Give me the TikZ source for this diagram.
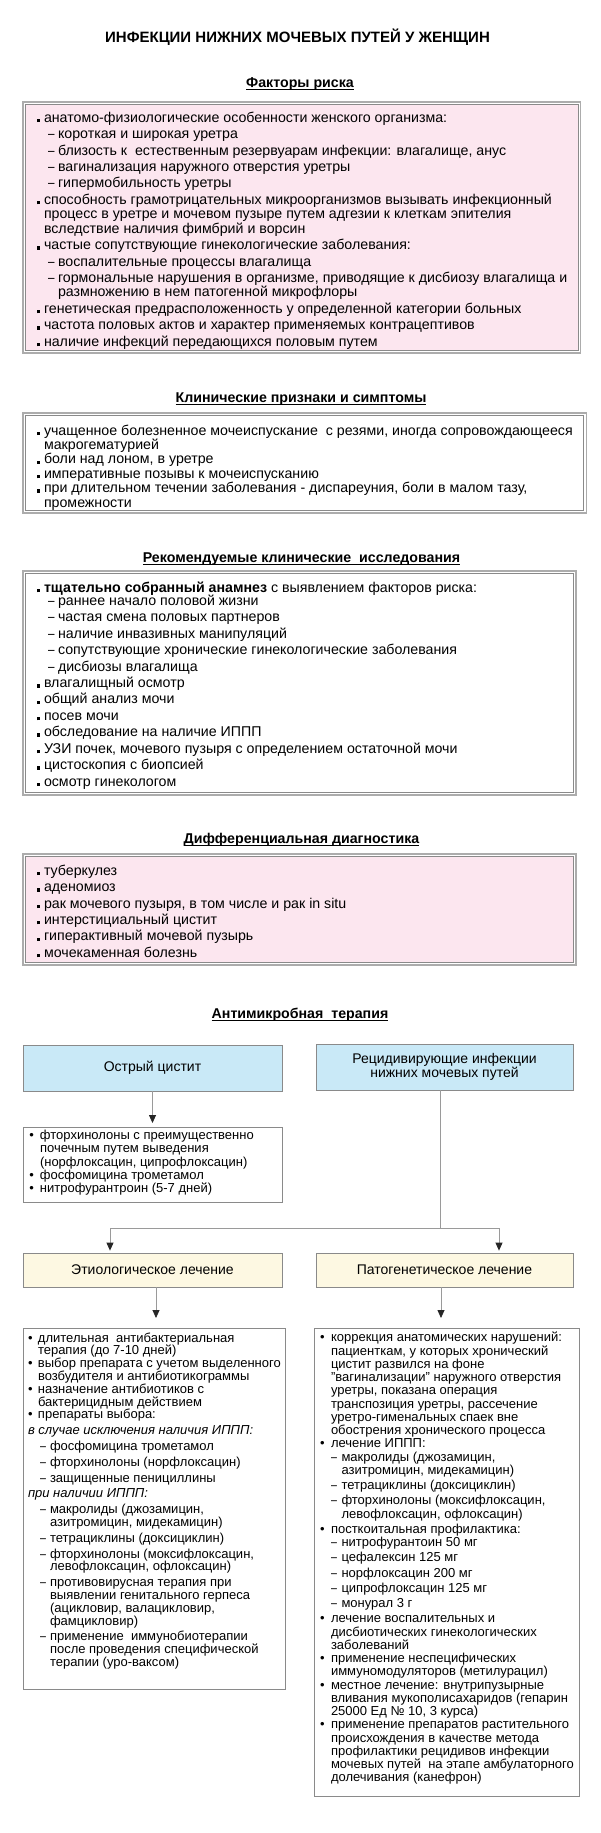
\documentclass[tikz,border=0pt]{standalone}
\usepackage{fontspec}
\usepackage{graphicx}
\setmainfont{Liberation Sans}
\usetikzlibrary{arrows.meta}
\definecolor{pinkc}{HTML}{FCE6EF}
\definecolor{bluec}{HTML}{C9E9F7}
\definecolor{yellc}{HTML}{FDF8E2}
\definecolor{framec}{HTML}{8A8A8A}
\definecolor{linec}{HTML}{9A9A9A}
\newlength\BW \newlength\DI \newlength\DW
\newcommand\Li[1]{\hbox{\strut#1}}
\newcommand\sqb{\rule{3.4pt}{3.4pt}}
\newcommand\dsh{\scalebox{0.82}[1]{–}}
\newcommand\IS[1]{\Li{\makebox[\BW][l]{\sqb}#1}}
\newcommand\IR[1]{\Li{\makebox[\BW][l]{\textbullet}#1}}
\newcommand\IC[1]{\Li{\hspace*{\BW}#1}}
\newcommand\ID[1]{\Li{\hspace*{\DI}\makebox[\DW][l]{\dsh}#1}}
\newcommand\DC[1]{\Li{\hspace*{\DI}\hspace*{\DW}#1}}
\newcommand\IH[1]{\Li{\itshape #1}}
\newcommand\G[1][2.05pt]{\vspace{#1}}
\newcommand\Panel[4]{\parbox[c][#2][t]{#1}{\lineskiplimit=-\maxdimen\hrule height0pt depth0pt width#1\relax\vspace*{\dimexpr#3-\ht\strutbox\relax}#4}}
\newcommand\uh[1]{\setbox0\hbox{#1}\rlap{\rule[-2.4pt]{\wd0}{0.8pt}}\box0}
\begin{document}
\begin{tikzpicture}[x=1pt,y=1pt,
  panel/.style={draw=framec, line width=0.6pt, anchor=north west, inner ysep=0pt, outer sep=0pt},
  outframe/.style={draw=gray!65, line width=1.1pt},
  tbox/.style={draw=framec, line width=0.8pt, fill=white, anchor=north west, inner ysep=0pt, outer sep=0pt},
  headbox/.style={draw=framec, line width=0.8pt, align=center, inner sep=0pt, font=\fontsize{14}{13.5}\selectfont},
  toptext/.style={font=\fontsize{14.2}{14.4}\selectfont},
  bottext/.style={font=\fontsize{13}{13.25}\selectfont},
  sechead/.style={anchor=base, font=\bfseries\fontsize{14.2}{15}\selectfont},
  titlestyle/.style={anchor=base, font=\bfseries\fontsize{15}{16}\selectfont},
  conn/.style={draw=linec, line width=0.8pt},
  arr/.style={conn, -{Triangle[length=8pt,width=7pt,color=black!85]}},
]
\fill[white] (0,0) rectangle (600,-1833);
\useasboundingbox (0,0) rectangle (600,-1833);

\node[titlestyle] (title) at (297.5,-42.5) {ИНФЕКЦИИ НИЖНИХ МОЧЕВЫХ ПУТЕЙ У ЖЕНЩИН};

% ---- risk factors
\node[sechead] (h1) at (300,-87.5) {\uh{Факторы риска}};
\node[panel, fill=pinkc, toptext, inner xsep=10.9pt] (risk) at (25.6,-104.6) {\Panel{526pt}{245.8pt}{17.2pt}{%
\setlength\BW{7.5pt}\setlength\DI{11.5pt}\setlength\DW{10pt}%
\IS{анатомо-физиологические особенности женского организма:}\G
\ID{короткая и широкая уретра}\G
\ID{близость к\ \ естественным резервуарам инфекции: влагалище, анус}\G
\ID{вагинализация наружного отверстия уретры}\G
\ID{гипермобильность уретры}\G
\IS{способность грамотрицательных микроорганизмов вызывать инфекционный}
\IC{процесс в уретре и мочевом пузыре путем адгезии к клеткам эпителия}
\IC{вследствие наличия фимбрий и ворсин}\G
\IS{частые сопутствующие гинекологические заболевания:}\G
\ID{воспалительные процессы влагалища}\G
\ID{гормональные нарушения в организме, приводящие к дисбиозу влагалища и}
\DC{размножению в нем патогенной микрофлоры}\G
\IS{генетическая предрасположенность у определенной категории больных}\G
\IS{частота половых актов и характер применяемых контрацептивов}\G
\IS{наличие инфекций передающихся половым путем}}};

% ---- clinical signs
\node[sechead] (h2) at (301,-402.5) {\uh{Клинические признаки и симптомы}};
\node[panel, fill=white, toptext, inner xsep=10.9pt] (clin) at (25.6,-415.6) {\Panel{526pt}{94.8pt}{19.2pt}{%
\setlength\BW{7.5pt}%
\IS{учащенное болезненное мочеиспускание\ \ с резями, иногда сопровождающееся}
\IC{макрогематурией}
\IS{боли над лоном, в уретре}
\IS{императивные позывы к мочеиспусканию}
\IS{при длительном течении заболевания - диспареуния, боли в малом тазу,}
\IC{промежности}}};

% ---- recommended examinations
\node[sechead] (h3) at (301.5,-562.5) {\uh{Рекомендуемые клинические\ \ исследования}};
\node[panel, fill=white, toptext, inner xsep=10.9pt] (exam) at (25.6,-573.6) {\Panel{526pt}{218.8pt}{18.2pt}{%
\setlength\BW{7.5pt}\setlength\DI{11.5pt}\setlength\DW{10pt}%
\IS{\textbf{тщательно собранный анамнез} с выявлением факторов риска:}\G[-1.4pt]
\ID{раннее начало половой жизни}\G
\ID{частая смена половых партнеров}\G
\ID{наличие инвазивных манипуляций}\G
\ID{сопутствующие хронические гинекологические заболевания}\G
\ID{дисбиозы влагалища}\G
\IS{влагалищный осмотр}\G
\IS{общий анализ мочи}\G
\IS{посев мочи}\G
\IS{обследование на наличие ИППП}\G
\IS{УЗИ почек, мочевого пузыря с определением остаточной мочи}\G
\IS{цистоскопия с биопсией}\G
\IS{осмотр гинекологом}}};

% ---- differential diagnosis
\node[sechead] (h4) at (301.5,-843.5) {\uh{Дифференциальная диагностика}};
\node[panel, fill=pinkc, toptext, inner xsep=10.9pt] (diff) at (25.6,-856.6) {\Panel{526pt}{105.8pt}{18.2pt}{%
\setlength\BW{7.5pt}%
\IS{туберкулез}\G
\IS{аденомиоз}\G
\IS{рак мочевого пузыря, в том числе и рак in situ}\G
\IS{интерстициальный цистит}\G
\IS{гиперактивный мочевой пузырь}\G
\IS{мочекаменная болезнь}}};

\foreach \n in {risk,clin,exam,diff}{
  \draw[outframe] ([shift={(-2.6,2.6)}]\n.north west) rectangle ([shift={(2.6,-2.6)}]\n.south east);
}

% ---- antimicrobial therapy
\node[sechead] (h5) at (300,-1018.5) {\uh{Антимикробная\ \ терапия}};
\node[headbox, fill=bluec, minimum width=259pt, minimum height=46pt] (acute) at (152.5,-1068) {Острый цистит};
\node[headbox, fill=bluec, minimum width=257pt, minimum height=46pt] (rec) at (444.5,-1067) {Рецидивирующие инфекции\\нижних мочевых путей};

\node[tbox, bottext, inner xsep=6.3pt] (acutetx) at (23,-1127) {\Panel{246.4pt}{75pt}{12.5pt}{%
\setlength\BW{10.7pt}%
\IR{фторхинолоны с преимущественно}
\IC{почечным путем выведения}
\IC{(норфлоксацин, ципрофлоксацин)}
\IR{фосфомицина трометамол}
\IR{нитрофурантроин (5-7 дней)}}};

\node[headbox, fill=yellc, minimum width=259pt, minimum height=34pt] (eti) at (152.5,-1270) {Этиологическое лечение};
\node[headbox, fill=yellc, minimum width=257pt, minimum height=34pt] (pat) at (444.5,-1270) {Патогенетическое лечение};

\node[tbox, font=\fontsize{13}{12.8}\selectfont, inner xsep=5pt] (etitx) at (23,-1328) {\Panel{249pt}{361pt}{13.5pt}{%
\setlength\BW{10pt}\setlength\DI{12pt}\setlength\DW{10pt}%
\IR{длительная\ \ антибактериальная}
\IC{терапия (до 7-10 дней)}
\IR{выбор препарата с учетом выделенного}
\IC{возбудителя и антибиотикограммы}
\IR{назначение антибиотиков с}
\IC{бактерицидным действием}
\IR{препараты выбора:}\G[3pt]
\IH{в случае исключения наличия ИППП:}\G[3pt]
\ID{фосфомицина трометамол}\G[3pt]
\ID{фторхинолоны (норфлоксацин)}\G[3pt]
\ID{защищенные пенициллины}\G[3pt]
\IH{при наличии ИППП:}\G[3pt]
\ID{макролиды (джозамицин,}
\DC{азитромицин, мидекамицин)}\G[3pt]
\ID{тетрациклины (доксициклин)}\G[3pt]
\ID{фторхинолоны (моксифлоксацин,}
\DC{левофлоксацин, офлоксацин)}\G[3pt]
\ID{противовирусная терапия при}
\DC{выявлении генитального герпеса}
\DC{(ацикловир, валацикловир,}
\DC{фамцикловир)}\G[3pt]
\ID{применение\ \ иммунобиотерапии}
\DC{после проведения специфической}
\DC{терапии (уро-ваксом)}}};

\node[tbox, bottext, inner xsep=6pt] (pattx) at (314,-1328) {\Panel{247pt}{468pt}{13.5pt}{%
\setlength\BW{11pt}\setlength\DI{11pt}\setlength\DW{10.5pt}%
\IR{коррекция анатомических нарушений:}
\IC{пациенткам, у которых хронический}
\IC{цистит развился на фоне}
\IC{"вагинализации" наружного отверстия}
\IC{уретры, показана операция}
\IC{транспозиция уретры, рассечение}
\IC{уретро-гименальных спаек вне}
\IC{обострения хронического процесса}
\IR{лечение ИППП:}
\ID{макролиды (джозамицин,}
\DC{азитромицин, мидекамицин)}\G[2pt]
\ID{тетрациклины (доксициклин)}\G[2pt]
\ID{фторхинолоны (моксифлоксацин,}
\DC{левофлоксацин, офлоксацин)}\G[2pt]
\IR{посткоитальная профилактика:}
\ID{нитрофурантоин 50 мг}\G[2pt]
\ID{цефалексин 125 мг}\G[2pt]
\ID{норфлоксацин 200 мг}\G[2pt]
\ID{ципрофлоксацин 125 мг}\G[2pt]
\ID{монурал 3 г}\G[2pt]
\IR{лечение воспалительных и}
\IC{дисбиотических гинекологических}
\IC{заболеваний}
\IR{применение неспецифических}
\IC{иммуномодуляторов (метилурацил)}
\IR{местное лечение: внутрипузырные}
\IC{вливания мукополисахаридов (гепарин}
\IC{25000 Ед № 10, 3 курса)}
\IR{применение препаратов растительного}
\IC{происхождения в качестве метода}
\IC{профилактики рецидивов инфекции}
\IC{мочевых путей\ \ на этапе амбулаторного}
\IC{долечивания (канефрон)}}};

% ---- connectors
\draw[arr, shorten >=4pt] (acute.south) -- (acutetx.north);
\coordinate (split) at (440,-1228);
\draw[conn] (rec.south -| split) -- (split);
\draw[arr, shorten >=2pt] (split) -| ([xshift=-42.5pt]eti.north);
\draw[arr, shorten >=2pt] (split) -| ([xshift=54.5pt]pat.north);
\coordinate (ea) at ([xshift=3.5pt]eti.south);
\draw[arr, shorten >=10pt] (ea) -- (ea |- etitx.north);
\coordinate (pa) at ([xshift=-3.5pt]pat.south);
\draw[arr, shorten >=10pt] (pa) -- (pa |- pattx.north);
\end{tikzpicture}
\end{document}
